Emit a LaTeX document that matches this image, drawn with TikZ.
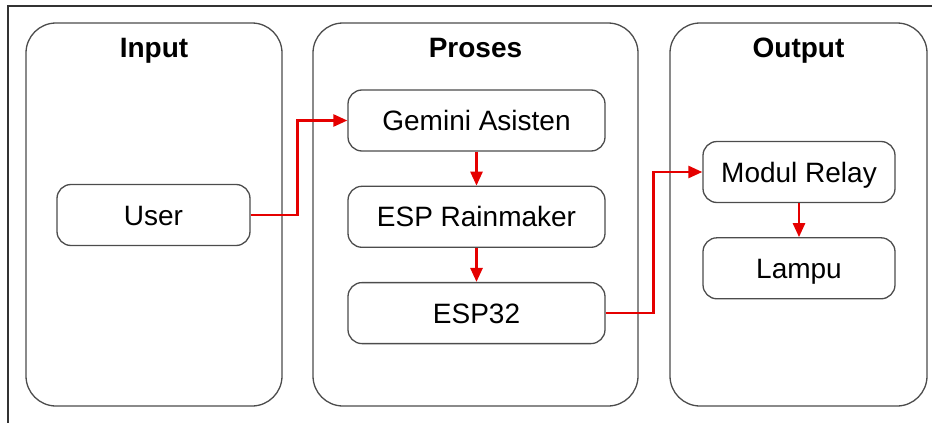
\documentclass[tikz,border=0pt]{standalone}
\usepackage{fontspec}
\setmainfont{Liberation Sans}
\usetikzlibrary{positioning,arrows.meta}
\begin{document}
\begin{tikzpicture}[x=1pt, y=-1pt, node distance=34pt,
  panel/.style={draw=black!70, line width=1.3pt, rounded corners=30pt, minimum height=383pt},
  title/.style={anchor=base, font=\bfseries\fontsize{28}{32}\selectfont},
  item/.style={draw=black!70, line width=1.3pt, rounded corners=14pt, minimum height=61pt,
    text height=20pt, text depth=0pt, font=\fontsize{28}{32}\selectfont},
  flow/.style={draw=red!90!black, line width=2.6pt, -{Triangle[length=14pt,width=12pt]}}]
      \useasboundingbox (0,0) rectangle (932,423);
      \draw[line width=1.3pt, black!80] (8,423) -- (8,6) -- (932,6);
      \node[panel, minimum width=256pt] (input)  at (154,214.5)   {};
      \node[panel, minimum width=325pt] (proses) at (475.5,214.5) {};
      \node[panel, minimum width=257pt] (output) at (798.5,214.5) {};
      \node[title] (tinput)  at ([yshift=-35pt]input.north)  {Input};
      \node[title] (tproses) at ([yshift=-35pt]proses.north) {Proses};
      \node[title] (toutput) at ([yshift=-35pt]output.north) {Output};
      \node[item, minimum width=193pt]                   (user)   at (153.5,215)   {User};
      \node[item, minimum width=257pt]                   (gemini) at (476.5,120.5) {Gemini Asisten};
      \node[item, minimum width=257pt, below=of gemini]  (rain)   {ESP Rainmaker};
      \node[item, minimum width=257pt, below=of rain]    (esp)    {ESP32};
      \node[item, minimum width=192pt]                   (relay)  at (799,172)     {Modul Relay};
      \node[item, minimum width=192pt, below=of relay]   (lampu)  {Lampu};
      \draw[flow] (user.east) -- ++(47,0) |- (gemini.west);
      \draw[flow] (gemini) -- (rain);
      \draw[flow] (rain) -- (esp);
      \draw[flow] (esp.east) -- ++(48,0) |- (relay.west);
      \draw[flow] (relay) -- (lampu);
\end{tikzpicture}
\end{document}
